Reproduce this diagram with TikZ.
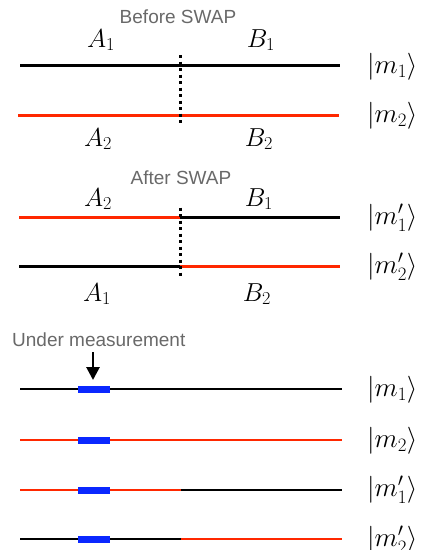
\RequirePackage{fix-cm}
\documentclass[tikz,border=0pt]{standalone}
\usepackage{fontspec}
\setsansfont{Liberation Sans}
\usetikzlibrary{arrows.meta}
\definecolor{qred}{RGB}{255,40,0}
\definecolor{qblue}{RGB}{10,40,255}
\definecolor{capgray}{RGB}{105,105,105}
\tikzset{
  thickline/.style={line width=3pt},
  thinline/.style={line width=2.6pt},
  measbar/.style={line width=7pt, qblue},
  dotline/.style={line width=3pt, dash pattern=on 3pt off 3.5pt},
  caption/.style={font=\sffamily\fontsize{19}{21}\selectfont, text=capgray, inner sep=0pt},
  lab/.style={font=\fontsize{26}{30}\selectfont, inner sep=0pt, anchor=base},
  ket/.style={font=\fontsize{27}{30}\selectfont, inner sep=0pt, anchor=west},
}
\begin{document}
\begin{tikzpicture}[x=1pt,y=-1pt]
\useasboundingbox (0,0) rectangle (427,550);
% ---------- Before SWAP ----------
\node[caption, anchor=base] (cap1) at (178,23) {Before SWAP};
\node[lab] (a1t) at (101,47) {$A_1$};
\node[lab] (b1t) at (261,47) {$B_1$};
\node[lab] (a2t) at (98,146) {$A_2$};
\node[lab] (b2t) at (259,146) {$B_2$};
\coordinate (p1l) at (20,65);  \coordinate (p1r) at (340,65);
\coordinate (p2l) at (18,115); \coordinate (p2r) at (339,115);
\coordinate (d1t) at (180.3,55.2); \coordinate (d1b) at (180.3,124);
\draw[thickline] (p1l) -- (p1r);
\draw[thickline, qred] (p2l) -- (p2r);
\draw[dotline] (d1t) -- (d1b);
\node[ket] (k1) at (367,67) {$|m_1\rangle$};
\node[ket] (k2) at (367,116) {$|m_2\rangle$};
% ---------- After SWAP ----------
\node[caption, anchor=base] (cap2) at (181,184) {After SWAP};
\node[lab] (a2s) at (98,206) {$A_2$};
\node[lab] (b1s) at (259,206) {$B_1$};
\node[lab] (a1s) at (97,301) {$A_1$};
\node[lab] (b2s) at (257,301) {$B_2$};
\coordinate (q1l) at (19,217); \coordinate (q1m) at (180,217); \coordinate (q1r) at (340,217);
\coordinate (q2l) at (19,266); \coordinate (q2m) at (180,266); \coordinate (q2r) at (340,266);
\coordinate (d2t) at (180.3,207.5); \coordinate (d2b) at (180.3,276);
\draw[thickline, qred] (q1l) -- (q1m);
\draw[thickline] (q1m) -- (q1r);
\draw[thickline] (q2l) -- (q2m);
\draw[thickline, qred] (q2m) -- (q2r);
\draw[dotline] (d2t) -- (d2b);
\node[ket] (k3) at (367,218) {$|m_1'\rangle$};
\node[ket] (k4) at (367,267) {$|m_2'\rangle$};
% ---------- Under measurement ----------
\node[caption, anchor=base west] (cap3) at (12,346) {Under measurement};
\coordinate (arT) at (93,352); \coordinate (arB) at (93,380);
\draw[line width=2.8pt, -{Triangle[width=13pt,length=13pt]}] (arT) -- (arB);
\foreach \y/\cl/\cr/\n in {389/black/black/1, 440/qred/qred/2, 490/qred/black/3, 539/black/qred/4}{
  \coordinate (l\n) at (20,\y);
  \coordinate (m\n) at (181,\y);
  \coordinate (r\n) at (342,\y);
  \coordinate (bl\n) at (78,\y);
  \coordinate (br\n) at (110,\y);
  \draw[thinline, \cl] (l\n) -- (m\n);
  \draw[thinline, \cr] (m\n) -- (r\n);
  \draw[measbar] (bl\n) -- (br\n);
}
\node[ket] (k5) at (367,390) {$|m_1\rangle$};
\node[ket] (k6) at (367,441) {$|m_2\rangle$};
\node[ket] (k7) at (367,490) {$|m_1'\rangle$};
\node[ket] (k8) at (367,540) {$|m_2'\rangle$};
\end{tikzpicture}
\end{document}
